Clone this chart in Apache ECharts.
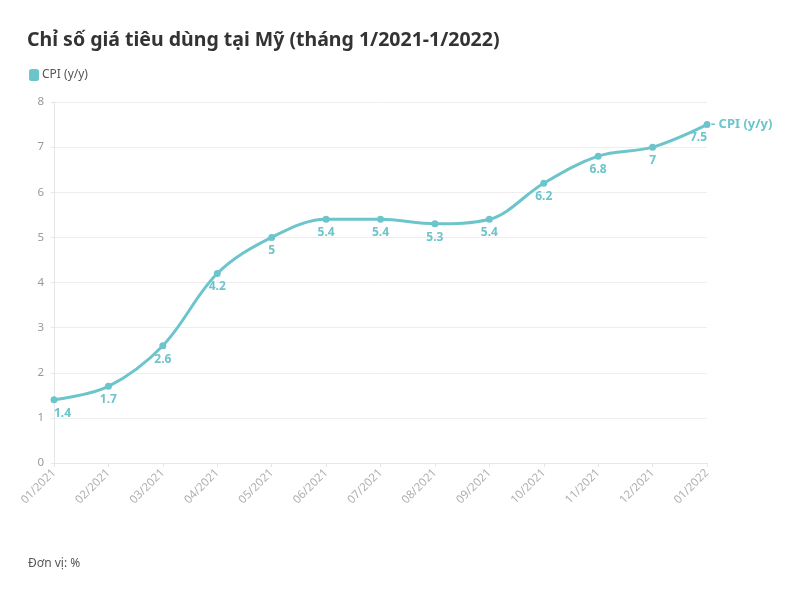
<!DOCTYPE html>
<html>
<head>
<meta charset="utf-8">
<script src="https://cdn.jsdelivr.net/npm/echarts@6/dist/echarts.min.js"></script>
<style>
  html, body { margin: 0; padding: 0; background: #fff; }
  #chart { width: 807px; height: 604px; }
</style>
</head>
<body>
<div id="chart"></div>
<script>
var months = ['01/2021', '02/2021', '03/2021', '04/2021', '05/2021', '06/2021', '07/2021',
              '08/2021', '09/2021', '10/2021', '11/2021', '12/2021', '01/2022'];
var cpi = [1.4, 1.7, 2.6, 4.2, 5, 5.4, 5.4, 5.3, 5.4, 6.2, 6.8, 7, 7.5];
var yTicks = [0, 8, 1];   // min, max, interval

var teal = '#6cc5ca';
var font = '"Noto Sans", "Open Sans", sans-serif';

// first/last labels kept inside the plot, like the original
var points = cpi.map(function (v, i) {
    var item = { value: v };
    if (i === 0) item.label = { align: 'left', offset: [0, 0] };
    if (i === cpi.length - 1) item.label = { align: 'right', offset: [0, 0] };
    return item;
});

var chart = echarts.init(document.getElementById('chart'));
chart.setOption({
    animation: false,
    textStyle: { fontFamily: font },
    title: {
        text: 'Chỉ số giá tiêu dùng tại Mỹ (tháng 1/2021-1/2022)',
        left: 22, top: 25,
        textStyle: { fontSize: 19.5, fontWeight: 'bold', color: '#333', fontFamily: font }
    },
    legend: {
        left: 24, top: 64,
        icon: 'roundRect',
        itemWidth: 10, itemHeight: 12, itemGap: 4,
        textStyle: { color: '#555', fontSize: 12, padding: [0, 0, 0, -2] },
        data: ['CPI (y/y)']
    },
    graphic: [{
        type: 'text',
        left: 28, top: 558,
        style: { text: 'Đơn vị: %', fill: '#555', fontSize: 12, fontFamily: font }
    }],
    grid: { left: 54, right: 100, top: 102, bottom: 141 },
    xAxis: {
        type: 'category',
        data: months,
        boundaryGap: false,
        axisLine: { lineStyle: { color: '#e6e6e6' } },
        axisTick: { show: true, length: 4, alignWithLabel: true, lineStyle: { color: '#e6e6e6' } },
        axisLabel: { rotate: 45, color: '#b0b0b0', fontSize: 11.5, margin: 8, interval: 0 }
    },
    yAxis: {
        type: 'value',
        min: yTicks[0], max: yTicks[1], interval: yTicks[2],
        axisLine: { show: true, lineStyle: { color: '#e6e6e6' } },
        axisTick: { show: true, length: 3, lineStyle: { color: '#e6e6e6' } },
        axisLabel: { color: '#999', fontSize: 11.5, margin: 10 },
        splitLine: { lineStyle: { color: '#eeeeee' } }
    },
    series: [{
        name: 'CPI (y/y)',
        type: 'line',
        data: points,
        smooth: 0.35,
        symbol: 'circle',
        symbolSize: 7,
        itemStyle: { color: teal },
        lineStyle: { color: teal, width: 3 },
        label: {
            show: true,
            position: 'bottom',
            distance: 4,
            color: teal,
            fontSize: 12,
            fontWeight: 'bold'
        },
        endLabel: {
            show: true,
            formatter: '- {a}',
            color: teal,
            fontSize: 13,
            fontWeight: 'bold',
            distance: 4
        }
    }]
});
</script>
</body>
</html>
